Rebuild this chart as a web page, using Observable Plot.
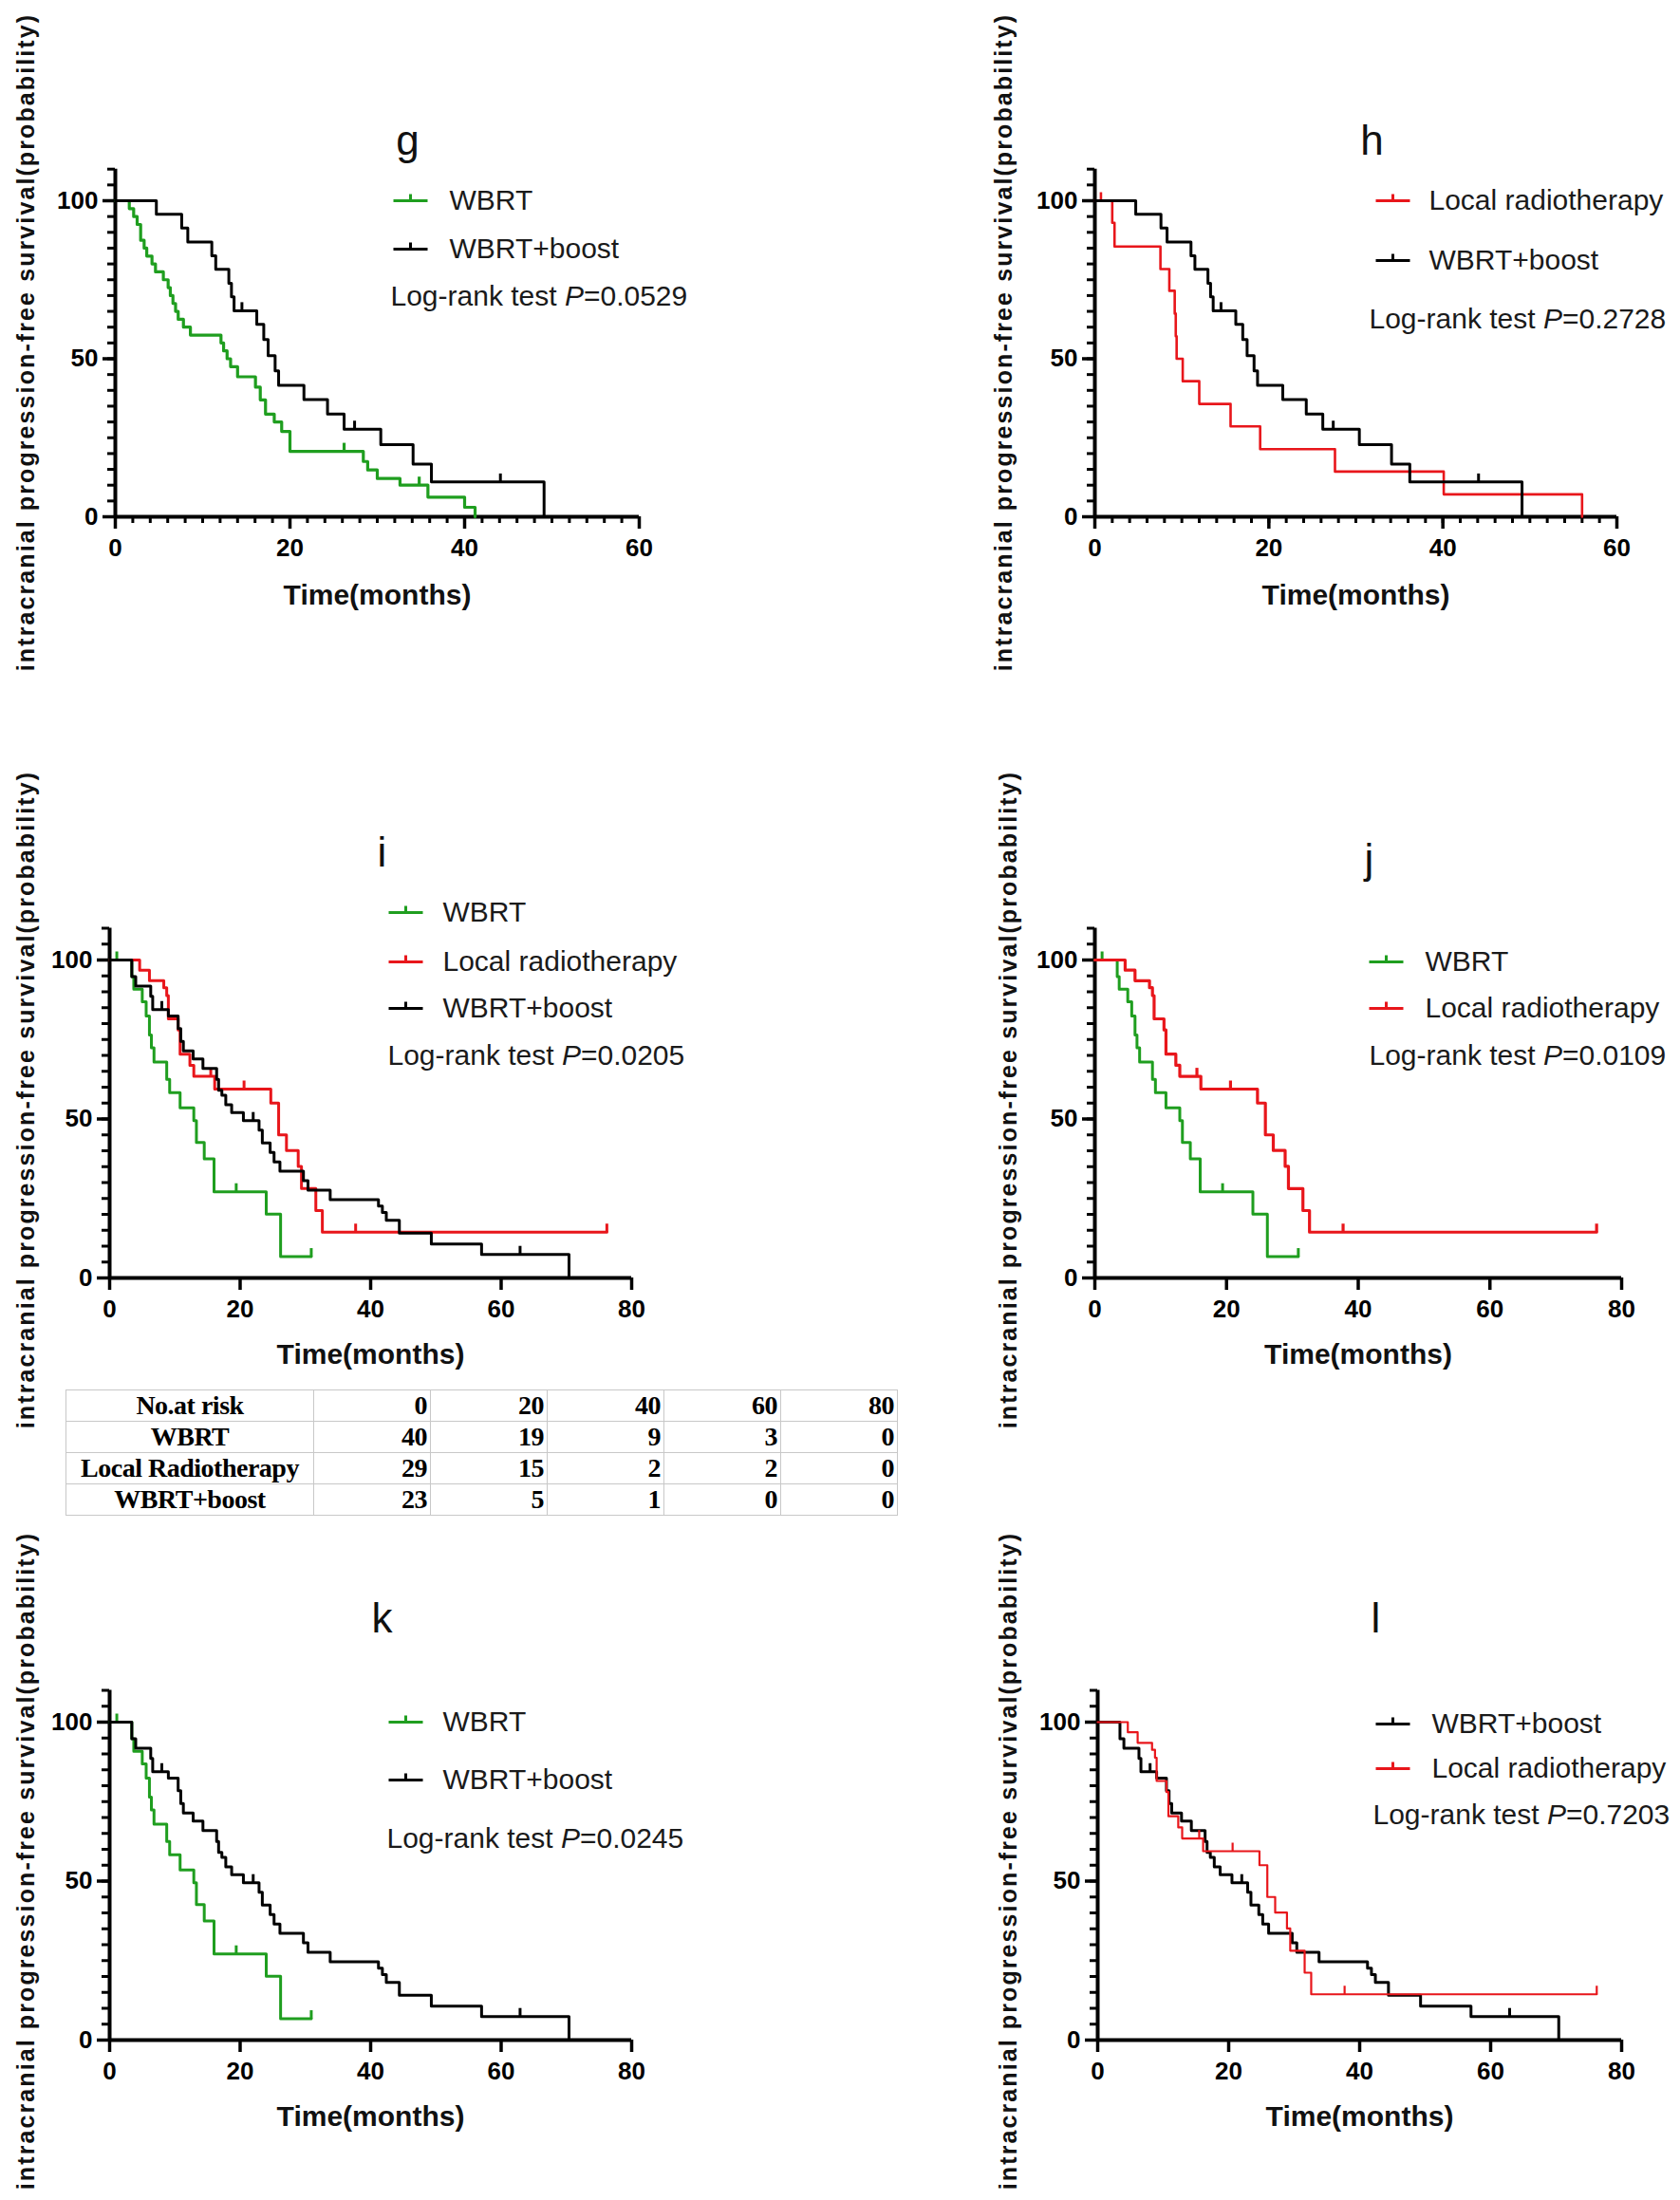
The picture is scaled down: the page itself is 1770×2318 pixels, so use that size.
<!DOCTYPE html>
<html><head><meta charset="utf-8">
<script src="https://cdn.jsdelivr.net/npm/d3@7"></script>
<script src="https://cdn.jsdelivr.net/npm/@observablehq/plot@0.6"></script>
<style>
html,body{margin:0;padding:0;background:#fff;}
#page{position:relative;width:1770px;height:2318px;overflow:hidden;background:#fff;}
#page svg.km{position:absolute;left:0;top:0;}
table.risk{position:absolute;left:69px;top:1464px;border-collapse:collapse;font-family:"Liberation Serif","DejaVu Serif",serif;font-weight:bold;font-size:28px;color:#000;letter-spacing:-0.5px;}
table.risk td{border:1.5px solid #c8c8c8;height:32px;padding:0 3px;text-align:right;line-height:1;}
table.risk td:first-child{text-align:center;width:254px;}
table.risk td.num{width:116px;}
</style></head><body><div id="page"></div><script>
// ---------- data ----------
// set A: panels g, h
const wbrtA_time = [0, 1.6, 2.1, 2.5, 2.9, 3.3, 3.6, 4.2, 4.6, 5.5, 6.05, 6.3, 6.6, 6.9, 7.2, 7.8, 8.6, 12.1, 12.4, 12.8, 13.2, 14.0, 16.05, 16.6, 17.2, 18.2, 19.05, 20.0, 28.4, 28.9, 30.0, 32.6, 35.8, 40.0, 41.2];
const wbrtA_surv = [100, 97.5, 95, 92.5, 87.5, 85, 82.5, 80, 77.5, 75, 72.5, 70, 67.5, 65, 62.5, 60, 57.5, 55, 52.5, 50, 47.5, 44.3, 41, 37, 32.5, 30, 27, 20.7, 17.5, 14.8, 12.1, 10, 6.2, 3, 0];
const wbrtA_censor = [26.2, 34.8];

const boostA_time = [0, 4.7, 7.6, 8.3, 11.05, 11.5, 13.0, 13.3, 13.6, 16.2, 17.0, 17.5, 18.3, 18.7, 21.6, 24.3, 26.2, 30.4, 34.1, 36.2, 49.1];
const boostA_surv = [100, 95.7, 91.4, 86.9, 82.6, 78.3, 73.9, 69.6, 65.2, 60.9, 56.1, 51.0, 46.2, 41.6, 37.1, 32.5, 27.7, 22.8, 16.7, 11.0, 0];
const boostA_censor = [14.5, 27.4, 44.1];

const localA_time = [0, 2.0, 2.26, 7.54, 8.56, 9.18, 9.3, 9.4, 10.1, 12.0, 15.6, 19.0, 27.6, 40.1, 56.0];
const localA_surv = [100, 93, 85.5, 78.4, 71.5, 64.3, 57.1, 50, 42.9, 35.7, 28.6, 21.4, 14.3, 7.1, 0];
const localA_censor = [0.7];

// set B: panels i, j, k, l
const wbrtB_time = [0, 3.4, 3.7, 5.0, 5.6, 6.1, 6.4, 6.8, 8.75, 9.2, 10.8, 12.9, 13.3, 14.5, 16.0, 24.0, 26.2, 30.9];
const wbrtB_surv = [100, 94.8, 90.8, 86.9, 82.4, 76.4, 72.4, 67.9, 62.5, 58.3, 53.5, 49.5, 42.6, 37.5, 27.1, 20.1, 6.7, 6.7];
const wbrtB_censor = [1.1, 19.4, 30.9];

const localB_time = [0, 4.6, 6.1, 8.3, 8.75, 9.0, 10.5, 10.8, 12.3, 12.9, 16.1, 24.7, 25.9, 27.1, 28.9, 29.4, 31.6, 32.6, 76.2];
const localB_surv = [100, 96.8, 93.5, 91.3, 88.8, 81.5, 78.0, 70.4, 66.9, 63.4, 59.4, 55.0, 45.0, 40.1, 35.1, 28.1, 21.2, 14.4, 14.4];
const localB_censor = [15.5, 20.6, 37.7, 76.2];

const boostB_time = [0, 3.4, 4.0, 6.3, 6.6, 9.0, 10.5, 10.9, 11.3, 12.8, 14.3, 16.4, 16.7, 17.2, 17.8, 18.7, 20.5, 22.9, 23.4, 24.6, 25.2, 26.1, 29.7, 30.4, 33.8, 41.2, 41.8, 42.4, 44.4, 49.3, 57.0, 70.4];
const boostB_surv = [100, 94.8, 91.8, 88.6, 84.4, 82.4, 78.4, 74.4, 71.4, 68.9, 65.9, 62.5, 59.0, 57.5, 54.5, 52.0, 49.5, 46.5, 42.5, 39.5, 36.5, 33.6, 30.6, 27.6, 24.6, 22.6, 20.6, 18.1, 14.1, 10.7, 7.4, 0];
const boostB_censor = [8.0, 22.0, 62.9];

// texts
const yTitle = "intracranial progression-free survival(probability)";
const xTitle = "Time(months)";
const panelLetters = ["g", "h", "i", "j", "k", "l"];
const pValues = ["0.0529", "0.2728", "0.0205", "0.0109", "0.0245", "0.7203"];
const nameWbrt = "WBRT", nameLocal = "Local radiotherapy", nameBoost = "WBRT+boost";

// number at risk table
const riskHeader = ["No.at risk", "0", "20", "40", "60", "80"];
const riskGroups = ["WBRT", "Local Radiotherapy", "WBRT+boost"];
const riskWbrt = [40, 19, 9, 3, 0];
const riskLocal = [29, 15, 2, 2, 0];
const riskBoost = [23, 5, 1, 0, 0];

// ---------- drawing ----------
const GREEN = "#1f9e1f", RED = "#e8161b", BLACK = "#000000";
const FONT = "'Liberation Sans', Arial, Helvetica, sans-serif";
const page = document.getElementById("page");

const censorTick = {draw(ctx) { ctx.moveTo(0, 0); ctx.lineTo(0, -9); }};
const legendSym = {draw(ctx) { ctx.moveTo(-18, 0); ctx.lineTo(18, 0); ctx.moveTo(0, 0); ctx.lineTo(0, -7); }};

function stepData(time, surv) { return time.map((t, i) => ({t, s: surv[i]})); }
function survAt(time, surv, c) { let v = surv[0]; for (let i = 0; i < time.length; i++) if (time[i] <= c) v = surv[i]; return v; }

const S = {
  wbrtA: {name: nameWbrt, color: GREEN, time: wbrtA_time, surv: wbrtA_surv, censor: wbrtA_censor},
  boostA: {name: nameBoost, color: BLACK, time: boostA_time, surv: boostA_surv, censor: boostA_censor},
  localA: {name: nameLocal, color: RED, time: localA_time, surv: localA_surv, censor: localA_censor},
  wbrtB: {name: nameWbrt, color: GREEN, time: wbrtB_time, surv: wbrtB_surv, censor: wbrtB_censor},
  localB: {name: nameLocal, color: RED, time: localB_time, surv: localB_surv, censor: localB_censor},
  boostB: {name: nameBoost, color: BLACK, time: boostB_time, surv: boostB_surv, censor: boostB_censor}
};

function panel(cfg) {
  const {L, R, T, Y0, xMax, minorX} = cfg;
  const marks = [];
  marks.push(Plot.axisY({ticks: d3.range(0, 111, 5), tickSize: 8, tickFormat: () => "", strokeWidth: 3, label: null}));
  marks.push(Plot.axisY({ticks: [0, 50, 100], tickSize: 13, tickPadding: 5, strokeWidth: 3.5, fontSize: 26, fontWeight: "bold", label: null}));
  if (minorX) marks.push(Plot.axisX({ticks: d3.range(0, xMax + 1, 2), tickSize: 7, tickFormat: () => "", strokeWidth: 3, label: null}));
  marks.push(Plot.axisX({ticks: d3.range(0, xMax + 1, 20), tickSize: 13, tickPadding: 10, strokeWidth: 3.5, fontSize: 26, fontWeight: "bold", label: null}));
  marks.push(Plot.ruleX([0], {strokeWidth: 4}));
  marks.push(Plot.ruleY([0], {strokeWidth: 4}));
  for (const [key, w] of cfg.series) {
    const se = S[key];
    marks.push(Plot.line(stepData(se.time, se.surv), {x: "t", y: "s", curve: "step-after", stroke: se.color, strokeWidth: w}));
    marks.push(Plot.dot(se.censor.map(c => ({t: c, s: survAt(se.time, se.surv, c)})), {x: "t", y: "s", symbol: censorTick, stroke: se.color, strokeWidth: w, fill: "none"}));
  }
  // legend
  cfg.legend.forEach((key, i) => {
    const se = S[key];
    const yy = cfg.legendY[i] - T;
    marks.push(Plot.dot([se], {frameAnchor: "top-left", dx: cfg.swatchX - L, dy: yy, symbol: legendSym, stroke: se.color, strokeWidth: 3, fill: "none"}));
    marks.push(Plot.text([se.name], {text: d => d, frameAnchor: "top-left", dx: cfg.legendTextX - L, dy: yy, textAnchor: "start", lineAnchor: "middle", fontSize: 30, fill: "#1a1a1a"}));
  });
  marks.push(Plot.text(["Log-rank test P=" + cfg.p], {text: d => d, frameAnchor: "top-left", dx: cfg.logPos[0] - L, dy: cfg.logPos[1] - T, textAnchor: "start", lineAnchor: "middle", fontSize: 30, fill: "#1a1a1a"}));
  marks.push(Plot.text([cfg.letter], {text: d => d, frameAnchor: "top-left", dx: cfg.letterPos[0] - L, dy: cfg.letterPos[1] - T, textAnchor: "middle", lineAnchor: "middle", fontSize: 44, fill: "#111"}));
  marks.push(Plot.text([xTitle], {text: d => d, frameAnchor: "bottom", dy: cfg.xTitleY - Y0, textAnchor: "middle", lineAnchor: "middle", fontSize: 30, fontWeight: "bold", fill: "#111"}));
  marks.push(Plot.text([yTitle], {text: d => d, frameAnchor: "left", rotate: -90, dx: cfg.yTitlePos[0] - L, dy: cfg.yTitlePos[1] - (T + Y0) / 2, textAnchor: "middle", lineAnchor: "middle", fontSize: 25, fontWeight: "bold", fill: "#111"}));

  const svg = Plot.plot({
    width: 1770, height: 2318,
    marginLeft: L, marginRight: 1770 - R, marginTop: T, marginBottom: 2318 - Y0,
    x: {domain: [0, xMax], label: null},
    y: {domain: [0, 110], label: null},
    className: "km",
    style: {background: "transparent", fontFamily: FONT, color: "#000", overflow: "visible"},
    marks
  });
  const ns = "http://www.w3.org/2000/svg";
  svg.querySelectorAll("text").forEach(t => {
    const s = t.textContent;
    if (s.startsWith("Log-rank test P=")) {
      const k = s.lastIndexOf("P=");
      t.textContent = "";
      const a = document.createElementNS(ns, "tspan"); a.textContent = s.slice(0, k);
      const b = document.createElementNS(ns, "tspan"); b.textContent = "P"; b.setAttribute("font-style", "italic");
      const c = document.createElementNS(ns, "tspan"); c.textContent = s.slice(k + 1);
      t.append(a, b, c);
    } else if (s === yTitle) {
      t.style.letterSpacing = "2.1px";
    }
  });
  svg.querySelectorAll('[aria-label="y-axis tick label"], [aria-label="x-axis tick label"]').forEach(g => g.setAttribute("font-weight", "bold"));
  page.appendChild(svg);
}

// g
panel({L: 121, R: 673, T: 177.7, Y0: 544, xMax: 60, minorX: true,
  series: [["wbrtA", 3.2], ["boostA", 3]], legend: ["wbrtA", "boostA"], legendY: [211, 262],
  swatchX: 432, legendTextX: 473, logPos: [411, 312], p: pValues[0], letter: panelLetters[0], letterPos: [429, 148],
  xTitleY: 627, yTitlePos: [27, 360]});
// h
panel({L: 1153, R: 1703, T: 177.7, Y0: 544, xMax: 60, minorX: true,
  series: [["localA", 2.6], ["boostA", 3]], legend: ["localA", "boostA"], legendY: [211, 274],
  swatchX: 1467, legendTextX: 1505, logPos: [1442, 336], p: pValues[1], letter: panelLetters[1], letterPos: [1445, 148],
  xTitleY: 627, yTitlePos: [1057, 360]});
// i
panel({L: 115, R: 665, T: 977.5, Y0: 1346, xMax: 80, minorX: false,
  series: [["wbrtB", 3], ["localB", 3], ["boostB", 3]], legend: ["wbrtB", "localB", "boostB"], legendY: [961, 1013, 1062],
  swatchX: 427, legendTextX: 466, logPos: [408, 1112], p: pValues[2], letter: panelLetters[2], letterPos: [402, 898],
  xTitleY: 1427, yTitlePos: [27, 1158]});
// j
panel({L: 1153, R: 1708, T: 977.5, Y0: 1346, xMax: 80, minorX: false,
  series: [["wbrtB", 3], ["localB", 3.2]], legend: ["wbrtB", "localB"], legendY: [1013, 1062],
  swatchX: 1460, legendTextX: 1501, logPos: [1442, 1112], p: pValues[3], letter: panelLetters[3], letterPos: [1442, 905],
  xTitleY: 1427, yTitlePos: [1062, 1158]});
// k
panel({L: 115, R: 665, T: 1780.5, Y0: 2149, xMax: 80, minorX: false,
  series: [["wbrtB", 3], ["boostB", 3]], legend: ["wbrtB", "boostB"], legendY: [1814, 1875],
  swatchX: 427, legendTextX: 466, logPos: [407, 1937], p: pValues[4], letter: panelLetters[4], letterPos: [402, 1705],
  xTitleY: 2230, yTitlePos: [27, 1960]});
// l
panel({L: 1156, R: 1708, T: 1780.5, Y0: 2149, xMax: 80, minorX: false,
  series: [["boostB", 3], ["localB", 2.2]], legend: ["boostB", "localB"], legendY: [1816, 1863],
  swatchX: 1467, legendTextX: 1508, logPos: [1446, 1912], p: pValues[5], letter: panelLetters[5], letterPos: [1449, 1705],
  xTitleY: 2230, yTitlePos: [1062, 1960]});

// number-at-risk table
const tbl = document.createElement("table");
tbl.className = "risk";
const rows = [riskHeader, [riskGroups[0], ...riskWbrt], [riskGroups[1], ...riskLocal], [riskGroups[2], ...riskBoost]];
for (const r of rows) {
  const tr = document.createElement("tr");
  r.forEach((v, i) => { const td = document.createElement("td"); td.textContent = v; if (i > 0) td.className = "num"; tr.appendChild(td); });
  tbl.appendChild(tr);
}
page.appendChild(tbl);
</script></body></html>
